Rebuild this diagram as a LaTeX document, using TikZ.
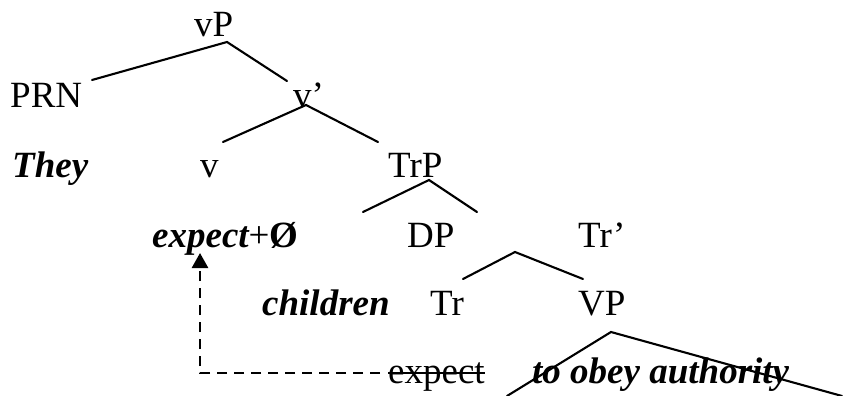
\documentclass[tikz,border=0pt]{standalone}
\usepackage{fontspec}
\setmainfont{Liberation Serif}
\usetikzlibrary{arrows.meta,calc}
\begin{document}
\begin{tikzpicture}[x=1pt,y=-1pt,
  lbl/.style={anchor=base west,inner sep=0pt,font=\fontsize{37}{44}\selectfont},
  word/.style={lbl,font=\fontsize{37}{44}\selectfont\bfseries\itshape},
  branch/.style={line width=2.1pt,line cap=round},
  move/.style={line width=2.6pt,dash pattern=on 10pt off 7pt,
    -{Triangle[width=16pt,length=15pt]}}]
\useasboundingbox (0,0) rectangle (843,396);

% category labels
\node[lbl] (vP)   at (194,37)  {vP};
\node[lbl] (PRN)  at (10,107)  {PRN};
\node[lbl] (vbar) at (293,107) {v’};
\node[lbl] (v)    at (200,177) {v};
\node[lbl] (TrP)  at (388,177) {TrP};
\node[lbl] (DP)   at (407,247) {DP};
\node[lbl] (Trbar) at (578,247) {Tr’};
\node[lbl] (Tr)   at (430,315) {Tr};
\node[lbl] (VP)   at (578,315) {VP};

% lexical material
\node[word] (They) at (12,177) {They};
\node[word] (expl) at (152,247) {expect{\mdseries\upshape+}{\upshape Ø}};
\node[word] (chil) at (262,315) {children};
\node[lbl]  (copy) at (388,383) {expect};
\node[word] (inf)  at (532,383) {to obey authority};

% branch points
\coordinate (a1) at (227,42);  \coordinate (a1l) at (92,80);   \coordinate (a1r) at (287,81);
\coordinate (a2) at (306,105); \coordinate (a2l) at (223,142); \coordinate (a2r) at (378,142);
\coordinate (a3) at (429,180); \coordinate (a3l) at (363,212); \coordinate (a3r) at (477,212);
\coordinate (a4) at (515,252); \coordinate (a4l) at (463,279); \coordinate (a4r) at (583,279);
\coordinate (a5) at (611,332); \coordinate (a5l) at (507,396); \coordinate (a5r) at (842,396);

\draw[branch] (a1l) -- (a1) -- (a1r);
\draw[branch] (a2l) -- (a2) -- (a2r);
\draw[branch] (a3l) -- (a3) -- (a3r);
\draw[branch] (a4l) -- (a4) -- (a4r);
\draw[branch] (a5l) -- (a5) -- (a5r);

% deleted copy of the verb
\draw[line width=2pt] ($(copy.base west)+(0,-10)$) -- ($(copy.base east)+(0,-10)$);

% head movement
\coordinate (from) at ($(copy.base west)+(-8,-10)$);
\coordinate (turn) at (200,373);
\coordinate (tip)  at (200,253);
\draw[move] (from) -- (turn) -- (tip);
\end{tikzpicture}
\end{document}
